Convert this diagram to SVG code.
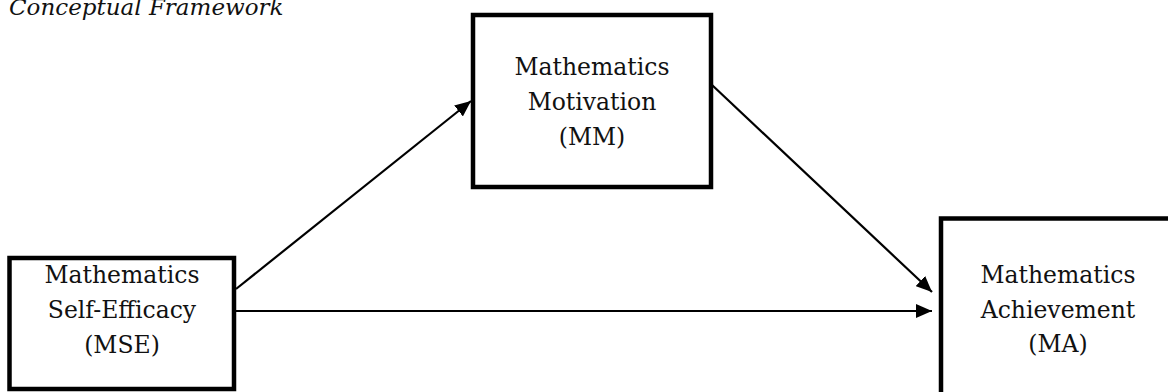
<svg xmlns="http://www.w3.org/2000/svg" width="1168" height="392" viewBox="0 0 1168 392">
<style>
.box{fill:#fff;stroke:#000;stroke-width:4.5}
.lbl{font-family:"DejaVu Serif","Liberation Serif",serif;font-size:23.5px;fill:#111;text-anchor:middle}
.title{font-family:"DejaVu Serif","Liberation Serif",serif;font-size:23px;font-style:italic;fill:#111}
.conn{stroke:#000;stroke-width:2.2;fill:none}
</style>
<defs>
<marker id="arr" markerUnits="userSpaceOnUse" markerWidth="16" markerHeight="14" refX="16" refY="7" orient="auto">
<path d="M0,0 L16,7 L0,14 z" fill="#000"/>
</marker>
</defs>
<rect width="1168" height="392" fill="#fff"/>
<text class="title" x="9" y="15">Conceptual Framework</text>
<g id="connectors">
<line class="conn" x1="236" y1="289" x2="471" y2="101" marker-end="url(#arr)"/>
<line class="conn" x1="712" y1="85" x2="932" y2="292" marker-end="url(#arr)"/>
<line class="conn" x1="236" y1="311" x2="932" y2="311" marker-end="url(#arr)"/>
</g>
<g id="mse">
<rect class="box" x="9.5" y="258" width="224.5" height="131"/>
<text class="lbl" x="122" y="283">Mathematics</text>
<text class="lbl" x="122" y="318">Self-Efficacy</text>
<text class="lbl" x="122" y="353">(MSE)</text>
</g>
<g id="mm">
<rect class="box" x="473" y="15" width="238" height="172"/>
<text class="lbl" x="592" y="75">Mathematics</text>
<text class="lbl" x="592" y="110">Motivation</text>
<text class="lbl" x="592" y="145">(MM)</text>
</g>
<g id="ma">
<rect class="box" x="941" y="218.5" width="240" height="190"/>
<text class="lbl" x="1058" y="283">Mathematics</text>
<text class="lbl" x="1058" y="318">Achievement</text>
<text class="lbl" x="1058" y="352">(MA)</text>
</g>
</svg>
